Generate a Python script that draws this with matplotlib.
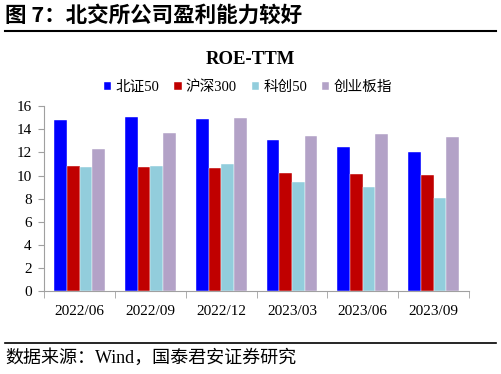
import numpy as np
import matplotlib
matplotlib.use("Agg")
import matplotlib.pyplot as plt
from matplotlib.lines import Line2D

# 数据 (ROE-TTM, %)
periods = ["2022/06", "2022/09", "2022/12", "2023/03", "2023/06", "2023/09"]
series_names = ["北证50", "沪深300", "科创50", "创业板指"]
bz50 = [14.76, 15.05, 14.85, 13.09, 12.43, 12.00]
hs300 = [10.79, 10.73, 10.62, 10.19, 10.10, 10.01]
kc50 = [10.70, 10.82, 10.99, 9.47, 9.00, 8.03]
cyb = [12.26, 13.64, 14.96, 13.44, 13.58, 13.29]
colors = ["#0000FF", "#C00000", "#92CDDC", "#B3A2C7"]

serif = ["Liberation Serif", "Noto Sans CJK SC"]
cjk = ["Noto Sans CJK SC", "DejaVu Sans"]

fig = plt.figure(figsize=(5.01, 3.74), dpi=100)
ax = fig.add_axes([0.0884, 0.2206, 0.936 - 0.0884, 0.7166 - 0.2206])

x = np.arange(len(periods))
w = 0.179
for i, (vals, name) in enumerate(zip([bz50, hs300, kc50, cyb], series_names)):
    ax.bar(x + (i - 1.5) * w, vals, width=w, color=colors[i], label=name,
           edgecolor="white", linewidth=0.3)

ax.set_xlim(-0.5, len(periods) - 0.5)
ax.set_ylim(0, 16)
ax.set_yticks(range(0, 17, 2))
ax.set_xticks(x)
ax.set_xticklabels(periods, fontfamily=serif, fontsize=11)
ax.set_xticks(np.arange(-0.5, len(periods)), minor=True)
ax.tick_params(axis="x", which="major", length=0, pad=10)
ax.tick_params(axis="x", which="minor", length=5, color="#A0A0A0", direction="out")
ax.tick_params(axis="y", length=4, color="#A0A0A0", pad=5)
for lb in ax.get_yticklabels():
    lb.set_fontfamily(serif)
    lb.set_fontsize(11)
for s in ["top", "right"]:
    ax.spines[s].set_visible(False)
for s in ["left", "bottom"]:
    ax.spines[s].set_color("#A0A0A0")

leg = fig.legend(loc="center", bbox_to_anchor=(0.495, 0.767), ncol=4, frameon=False,
                 prop={"family": serif, "size": 10.5}, handlelength=0.5, handleheight=0.5,
                 handletextpad=0.3, columnspacing=1.0)

fig.text(0.5, 1 - 60 / 374, "ROE-TTM", ha="center", va="center",
         fontfamily=serif, fontweight="bold", fontsize=13.5)
fig.text(0.01, 1 - 15 / 374, "图 7：北交所公司盈利能力较好", ha="left", va="center",
         fontfamily=cjk, fontweight="bold", fontsize=15.5)
fig.text(0.01, 1 - 358 / 374, "数据来源：Wind，国泰君安证券研究", ha="left", va="center",
         fontfamily=serif, fontsize=13)

fig.add_artist(Line2D([5 / 501, 496 / 501], [1 - 31 / 374] * 2, color="black", lw=1.5))
fig.add_artist(Line2D([5 / 501, 496 / 501], [1 - 343 / 374] * 2, color="black", lw=1.2))

fig.savefig("out.png", dpi=100)
